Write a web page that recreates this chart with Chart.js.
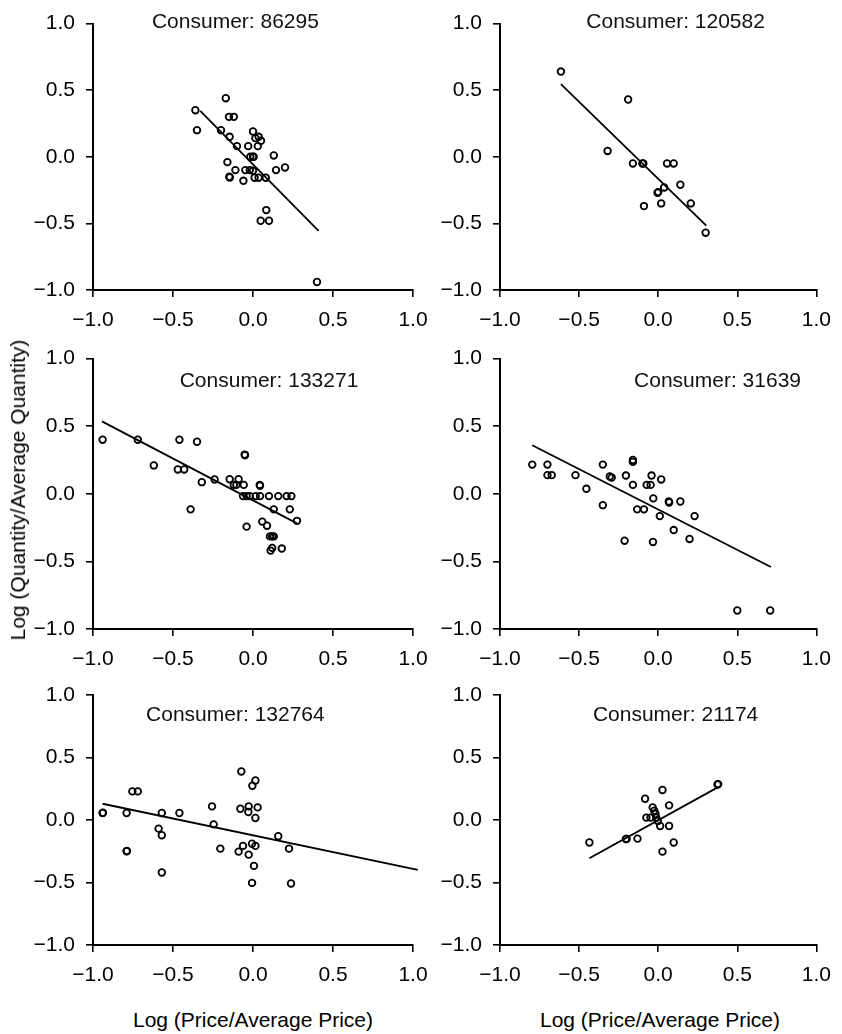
<!DOCTYPE html>
<html>
<head>
<meta charset="utf-8">
<script src="https://cdn.jsdelivr.net/npm/chart.js@4.4.1/dist/chart.umd.min.js"></script>
<style>
  html, body { margin: 0; padding: 0; background: #fff; }
  #wrap { position: relative; width: 842px; height: 1034px; overflow: hidden; }
  canvas { position: absolute; }
  .axis-label {
    position: absolute; font-family: "Liberation Sans", Arial, sans-serif;
    font-size: 21px; line-height: 24px; color: #000; white-space: nowrap;
  }
</style>
</head>
<body>
<div id="wrap"></div>
<script>
// Shared tick values for both axes of every panel
const tickValues = [-1, -0.5, 0, 0.5, 1];
const consumers = ['86295', '120582', '133271', '31639', '132764', '21174'];
const xAxisTitle = 'Log (Price/Average Price)';
const yAxisTitle = 'Log (Quantity/Average Quantity)';

// Consumer 86295
const price86295 = [-0.36,-0.35,-0.17,-0.15,-0.12,-0.20,-0.146,-0.10,-0.16,-0.11,-0.148,-0.145,-0.06,-0.03,0.0,0.015,0.035,0.05,0.03,-0.017,0.004,0.0,-0.048,-0.02,0.0,0.01,0.035,0.08,0.13,0.144,0.20,0.083,0.048,0.10,0.40];
const qty86295 = [0.35,0.20,0.44,0.30,0.30,0.20,0.15,0.08,-0.04,-0.10,-0.15,-0.155,-0.18,0.08,0.19,0.14,0.15,0.12,0.08,0.0,0.0,0.0,-0.10,-0.10,-0.105,-0.157,-0.157,-0.157,0.01,-0.10,-0.08,-0.40,-0.48,-0.48,-0.94];
const fitPrice86295 = [-0.33, 0.41];
const fitQty86295 = [0.344, -0.556];

// Consumer 120582
const price120582 = [-0.615,-0.19,-0.32,-0.16,-0.10,-0.094,0.056,0.098,0.14,0.0375,-0.004,0.0,-0.09,0.019,0.206,0.30];
const qty120582 = [0.64,0.43,0.044,-0.05,-0.05,-0.05,-0.05,-0.05,-0.21,-0.23,-0.27,-0.265,-0.37,-0.35,-0.35,-0.57];
const fitPrice120582 = [-0.615, 0.304];
const fitQty120582 = [0.546, -0.516];

// Consumer 133271
const price133271 = [-0.94,-0.72,-0.62,-0.46,-0.47,-0.43,-0.35,-0.32,-0.39,-0.24,-0.146,-0.09,-0.12,-0.104,-0.058,-0.052,-0.05,-0.0625,-0.04,-0.02,0.017,0.044,0.10,0.158,0.21,0.24,0.042,0.044,-0.04,0.13,0.23,0.058,0.0875,0.106,0.13,0.12,0.12,0.11,0.18,0.275];
const qty133271 = [0.40,0.40,0.21,0.40,0.18,0.18,0.385,0.086,-0.115,0.106,0.108,0.108,0.066,0.066,0.066,0.29,0.285,-0.017,-0.017,-0.017,-0.017,-0.017,-0.017,-0.017,-0.017,-0.017,0.066,0.06,-0.243,-0.115,-0.115,-0.206,-0.236,-0.315,-0.315,-0.315,-0.40,-0.42,-0.405,-0.20];
const fitPrice133271 = [-0.944, 0.275];
const fitQty133271 = [0.536, -0.219];

// Consumer 31639
const price31639 = [-0.796,-0.70,-0.70,-0.673,-0.523,-0.454,-0.35,-0.35,-0.306,-0.294,-0.204,-0.16,-0.16,-0.16,-0.2125,-0.133,-0.09,-0.073,-0.048,-0.042,0.019,-0.031,-0.033,0.01,0.067,0.069,0.14,0.23,0.098,0.198,0.50,0.708];
const qty31639 = [0.216,0.216,0.138,0.138,0.138,0.037,0.216,-0.084,0.128,0.12,0.135,0.25,0.236,0.066,-0.347,-0.115,-0.115,0.066,0.066,0.135,0.106,-0.034,-0.356,-0.165,-0.057,-0.064,-0.057,-0.165,-0.268,-0.334,-0.863,-0.863];
const fitPrice31639 = [-0.796, 0.7125];
const fitQty31639 = [0.359, -0.541];

// Consumer 132764
const price132764 = [-0.94,-0.79,-0.754,-0.72,-0.57,-0.46,-0.59,-0.57,-0.79,-0.57,-0.256,-0.246,-0.204,-0.073,0.015,-0.004,-0.079,-0.027,-0.029,0.029,0.015,-0.0625,-0.09,-0.027,-0.006,0.015,0.006,-0.006,0.158,0.225,0.2375,-0.938,-0.788];
const qty132764 = [0.056,0.056,0.229,0.229,0.056,0.056,-0.069,-0.122,-0.25,-0.42,0.109,-0.035,-0.229,0.388,0.316,0.274,0.09,0.109,0.064,0.101,0.016,-0.207,-0.253,-0.277,-0.19,-0.207,-0.367,-0.503,-0.13,-0.229,-0.508,0.058,-0.248];
const fitPrice132764 = [-0.94, 1.03];
const fitQty132764 = [0.130, -0.399];

// Consumer 21174
const price21174 = [-0.435,-0.204,-0.2,-0.131,-0.083,0.027,0.069,-0.035,-0.025,-0.017,-0.075,-0.048,-0.0125,-0.002,0.0125,0.069,0.098,0.027,0.379,0.375];
const qty21174 = [-0.18,-0.152,-0.152,-0.149,0.17,0.24,0.117,0.101,0.074,0.048,0.019,0.019,0.019,-0.008,-0.048,-0.048,-0.18,-0.253,0.287,0.284];
const fitPrice21174 = [-0.435, 0.379];
const fitQty21174 = [-0.306, 0.263];

const series = {
  '86295':  { px: price86295,  qy: qty86295,  fx: fitPrice86295,  fy: fitQty86295 },
  '120582': { px: price120582, qy: qty120582, fx: fitPrice120582, fy: fitQty120582 },
  '133271': { px: price133271, qy: qty133271, fx: fitPrice133271, fy: fitQty133271 },
  '31639':  { px: price31639,  qy: qty31639,  fx: fitPrice31639,  fy: fitQty31639 },
  '132764': { px: price132764, qy: qty132764, fx: fitPrice132764, fy: fitQty132764 },
  '21174':  { px: price21174,  qy: qty21174,  fx: fitPrice21174,  fy: fitQty21174 }
};

// Grid layout of the six panels (canvas boxes and axis sizes, in px)
const columns = [
  { left: 20,  width: 430, yAxisW: 73, padRight: 37, center: 253 },
  { left: 430, width: 412, yAxisW: 70, padRight: 22, center: 660 }
];
const rows = [
  { top: 0,   height: 335, padTop: 18, xAxisH: 45 },
  { top: 335, height: 335, padTop: 22, xAxisH: 41 },
  { top: 670, height: 320, padTop: 25, xAxisH: 45 }
];
// Where each panel heading sits, in data units of its own axes
const headingAt = [[-0.11, 1.01], [0.11, 1.01], [0.10, 0.835], [0.375, 0.835], [-0.11, 0.84], [0.11, 0.84]];

const FONT = '"Liberation Sans", Arial, Helvetica, sans-serif';
Chart.defaults.font.family = FONT;
Chart.defaults.font.size = 21;
Chart.defaults.color = '#000';

const fmt = v => (v < 0 ? '\u2212' : '') + Math.abs(v).toFixed(1);

const headingPlugin = {
  id: 'panelHeading',
  afterDraw(chart, args, opts) {
    const { ctx, scales } = chart;
    ctx.save();
    ctx.font = '21px ' + FONT;
    ctx.fillStyle = '#111';
    ctx.textAlign = 'center';
    ctx.textBaseline = 'middle';
    ctx.fillText(opts.text, scales.x.getPixelForValue(opts.at[0]), scales.y.getPixelForValue(opts.at[1]));
    ctx.restore();
  }
};

function axisOptions(isX, size) {
  return {
    type: 'linear',
    min: -1, max: 1,
    position: isX ? 'bottom' : 'left',
    afterBuildTicks: s => { s.ticks = tickValues.map(v => ({ value: v })); },
    afterFit: s => { if (isX) s.height = size; else s.width = size; },
    ticks: { callback: v => fmt(v), padding: 11, color: '#000', font: { size: 21 }, maxRotation: 0, autoSkip: false },
    grid: { display: true, drawOnChartArea: false, drawTicks: true, tickLength: 7, color: '#000', lineWidth: 1.6 },
    border: { display: true, color: '#000', width: 2 }
  };
}

const wrap = document.getElementById('wrap');
consumers.forEach((id, i) => {
  const col = columns[i % 2];
  const row = rows[Math.floor(i / 2)];
  const cv = document.createElement('canvas');
  cv.width = col.width; cv.height = row.height;
  cv.style.left = col.left + 'px'; cv.style.top = row.top + 'px';
  cv.style.width = col.width + 'px'; cv.style.height = row.height + 'px';
  wrap.appendChild(cv);
  const s = series[id];
  new Chart(cv, {
    type: 'scatter',
    data: {
      datasets: [
        {
          data: s.px.map((x, k) => ({ x, y: s.qy[k] })),
          pointRadius: 3.3, pointHoverRadius: 3.3,
          pointBorderWidth: 1.8, borderColor: '#000', backgroundColor: 'rgba(0,0,0,0)',
          pointBackgroundColor: 'rgba(0,0,0,0)', pointBorderColor: '#000',
          showLine: false
        },
        {
          data: s.fx.map((x, k) => ({ x, y: s.fy[k] })),
          showLine: true, pointRadius: 0, borderColor: '#000', borderWidth: 1.8,
          clip: false
        }
      ]
    },
    options: {
      responsive: false, animation: false, devicePixelRatio: 1,
      layout: { padding: { left: 0, top: row.padTop, right: col.padRight, bottom: 0 } },
      plugins: {
        legend: { display: false }, tooltip: { enabled: false },
        panelHeading: { text: 'Consumer: ' + id, at: headingAt[i] }
      },
      scales: { x: axisOptions(true, row.xAxisH), y: axisOptions(false, col.yAxisW) }
    },
    plugins: [headingPlugin]
  });
});

// Shared axis titles
const yl = document.createElement('div');
yl.className = 'axis-label';
yl.textContent = yAxisTitle;
yl.style.left = '18px'; yl.style.top = '490px';
yl.style.transform = 'translate(-50%, -50%) rotate(-90deg)';
wrap.appendChild(yl);
columns.forEach(c => {
  const xl = document.createElement('div');
  xl.className = 'axis-label';
  xl.textContent = xAxisTitle;
  xl.style.left = c.center + 'px'; xl.style.top = '1008px';
  xl.style.transform = 'translateX(-50%)';
  wrap.appendChild(xl);
});
</script>
</body>
</html>
